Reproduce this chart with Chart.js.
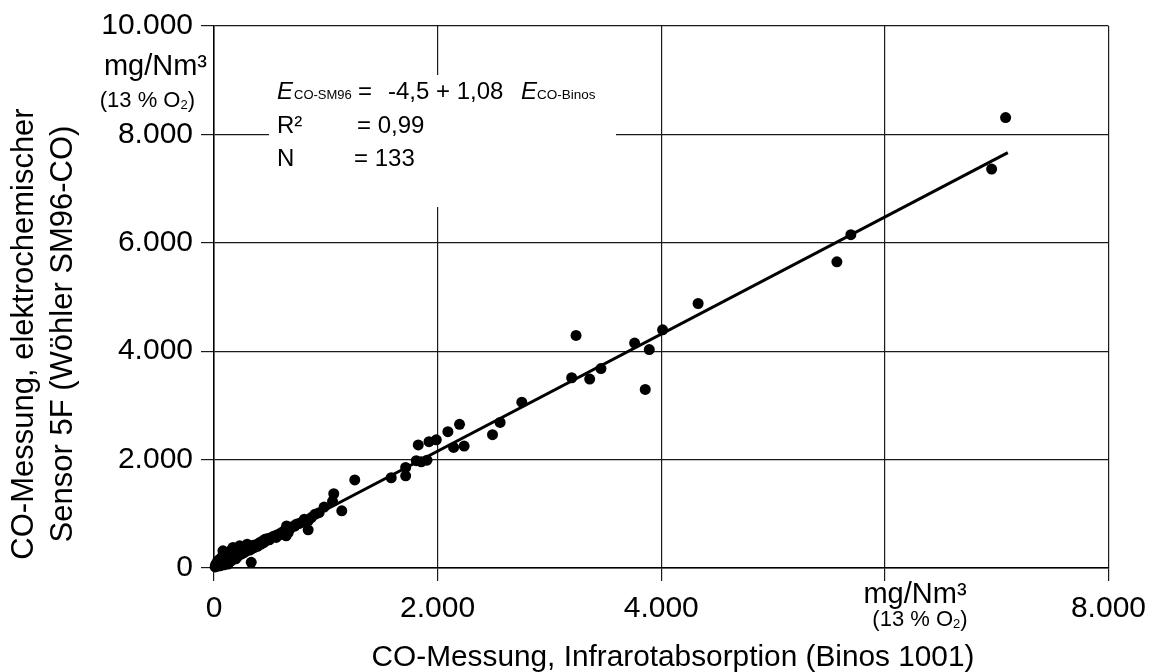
<!DOCTYPE html>
<html><head><meta charset="utf-8">
<script src="https://cdn.jsdelivr.net/npm/chart.js@4.4.0/dist/chart.umd.min.js"></script>
<style>html,body{margin:0;padding:0;background:#fff;}canvas{display:block;}</style>
</head><body>
<canvas id="c" width="1156" height="672"></canvas>
<script>
// ---- data ----
const xBinos = [
 7080,6955,5696,5571,4330,4012,3762,3893,3857,3238,3461,3199,3360,2753,2559,2491,2196,2092,2237,2143,
 1988,1923,1827,1905,1854,1809,1714,1714,1585,1259,1071,1143,1060,985,902,842,842,783,723,649,664,560,455,333,
 10,15,20,25,30,35,40,45,50,55,60,65,70,75,80,85,90,95,100,105,110,115,120,125,130,135,140,145,150,155,
 160,165,170,175,180,185,190,195,200,205,210,217,225,229,235,240,244,250,258,265,272,280,288,297,305,312,
 320,330,340,352,363,375,388,400,410,422,435,445,470,482,495,510,525,540,556,572,586,600,615,630,645,661,
 680,700,735,760,808,870,940
];
const ySM96 = [
 8310,7360,6150,5650,4880,4395,4150,4030,3295,4290,3680,3510,3485,3060,2685,2460,2650,2515,2250,2225,
 2365,2330,2270,1990,1960,1980,1855,1700,1665,1625,1370,1055,1230,1125,990,870,705,840,775,775,655,595,530,105,
 20,60,75,30,110,135,50,90,160,40,120,70,200,100,318,150,60,230,130,180,90,250,150,73,210,300,170,120,260,200,
 340,150,380,230,190,280,320,170,240,350,210,380,300,410,260,330,257,300,370,280,330,400,310,440,350,380,
 330,400,360,420,380,430,400,450,470,440,500,470,510,545,520,560,575,590,565,620,610,650,640,690,595,745,
 720,760,805,820,900,930,1020
];
const xTicks = [0, 2000, 4000, 6000, 8000];
const yTicks = [0, 2000, 4000, 6000, 8000, 10000];
const regIntercept = -4.5;
const regSlope = 1.08;
const regXRange = [0, 7100];
const xTitle = 'CO-Messung, Infrarotabsorption (Binos 1001)';
const yTitleLines = ['CO-Messung, elektrochemischer', 'Sensor 5F (Wöhler SM96-CO)'];
const unitText = 'mg/Nm³';
const refText = ['(13 % O', '2', ')'];

const FF = "'Liberation Sans', Arial, Helvetica, sans-serif";
const fmt = v => String(v).replace(/\B(?=(\d{3})+(?!\d))/g, '.');

const points = xBinos.map((x, i) => ({x, y: ySM96[i]}));
const regLine = regXRange.map(x => ({x, y: regIntercept + regSlope * x}));

function runs(ctx, parts, x, y, align) {
  let total = 0;
  parts.forEach(p => { ctx.font = p.font; p.w = ctx.measureText(p.t).width; total += p.w; });
  let cx = align === 'right' ? x - total : align === 'center' ? x - total / 2 : x;
  ctx.textAlign = 'left';
  parts.forEach(p => { ctx.font = p.font; ctx.fillText(p.t, cx, y + (p.dy || 0)); cx += p.w; });
}

const annot = {
  id: 'annot',
  beforeDatasetsDraw(chart) {
    const ctx = chart.ctx;
    ctx.save();
    ctx.fillStyle = '#fff';
    ctx.fillRect(269, 75, 347, 132);
    ctx.fillStyle = '#000';
    ctx.textBaseline = 'alphabetic';
    const F = s => s + 'px ' + FF;
    const FI = s => 'italic ' + s + 'px ' + FF;
    ctx.font = FI(24); ctx.fillText('E', 277, 99);
    ctx.font = F(13); ctx.fillText('CO-SM96', 294, 99);
    ctx.font = F(24); ctx.fillText('=', 358, 99);
    ctx.fillText('-4,5 + 1,08', 388, 99);
    ctx.font = FI(24); ctx.fillText('E', 521, 99);
    ctx.font = F(13.5); ctx.fillText('CO-Binos', 537, 99);
    ctx.font = F(24);
    ctx.fillText('R²', 277, 133);
    ctx.fillText('= 0,99', 357, 133);
    ctx.fillText('N', 277, 166);
    ctx.fillText('= 133', 354, 166);
    ctx.restore();
  },
  afterDraw(chart) {
    const ctx = chart.ctx;
    ctx.save();
    ctx.fillStyle = '#000';
    ctx.textBaseline = 'alphabetic';
    // x title
    ctx.font = '29.8px ' + FF; ctx.textAlign = 'center';
    ctx.fillText(xTitle, 673, 666);
    // y title (two lines, rotated)
    ctx.font = '31px ' + FF;
    [33, 72].forEach((bx, i) => {
      ctx.save(); ctx.translate(bx, 334); ctx.rotate(-Math.PI / 2);
      ctx.textAlign = 'center'; ctx.fillText(yTitleLines[i], 0, 0); ctx.restore();
    });
    // y unit
    runs(ctx, [{t: unitText, font: '29px ' + FF}], 207, 75, 'right');
    runs(ctx, [{t: refText[0], font: '22px ' + FF}, {t: refText[1], font: '13px ' + FF, dy: 2}, {t: refText[2], font: '22px ' + FF}], 195, 107, 'right');
    // x unit (in place of the 6.000 label)
    runs(ctx, [{t: unitText, font: '29px ' + FF}], 915, 603, 'center');
    runs(ctx, [{t: refText[0], font: '22px ' + FF}, {t: refText[1], font: '13px ' + FF, dy: 2}, {t: refText[2], font: '22px ' + FF}], 920, 626, 'center');
    ctx.restore();
  }
};

const gridCol = '#1a1a1a';
new Chart(document.getElementById('c'), {
  type: 'scatter',
  data: {
    datasets: [
      {type: 'line', data: regLine, borderColor: '#000', borderWidth: 3, pointRadius: 0, fill: false, order: 0, clip: false},
      {data: points, backgroundColor: '#000', borderColor: '#000', pointRadius: 5.5, pointBorderWidth: 0, order: 1, clip: false}
    ]
  },
  options: {
    responsive: false, animation: false, devicePixelRatio: 1,
    layout: {padding: {left: 0, top: 23, right: 46, bottom: 0}},
    plugins: {legend: {display: false}, tooltip: {enabled: false}},
    scales: {
      x: {
        type: 'linear', min: 0, max: 8000,
        afterBuildTicks: s => { s.ticks = xTicks.map(v => ({value: v})); },
        afterFit: s => { s.height = 104; },
        ticks: {font: {family: FF, size: 30}, color: '#000', padding: 10, maxRotation: 0,
          callback: v => v === 6000 ? '' : fmt(v)},
        grid: {color: gridCol, lineWidth: 1.2, tickLength: 13, tickColor: gridCol},
        border: {color: '#000', width: 1.5}
      },
      y: {
        type: 'linear', min: 0, max: 10000,
        afterBuildTicks: s => { s.ticks = yTicks.map(v => ({value: v})); },
        afterFit: s => { s.width = 214; },
        ticks: {font: {family: FF, size: 30}, color: '#000', padding: 8, callback: v => fmt(v)},
        grid: {color: gridCol, lineWidth: 1.2, tickLength: 13, tickColor: gridCol},
        border: {color: '#000', width: 1.5}
      }
    }
  },
  plugins: [annot]
});
</script>
</body></html>
